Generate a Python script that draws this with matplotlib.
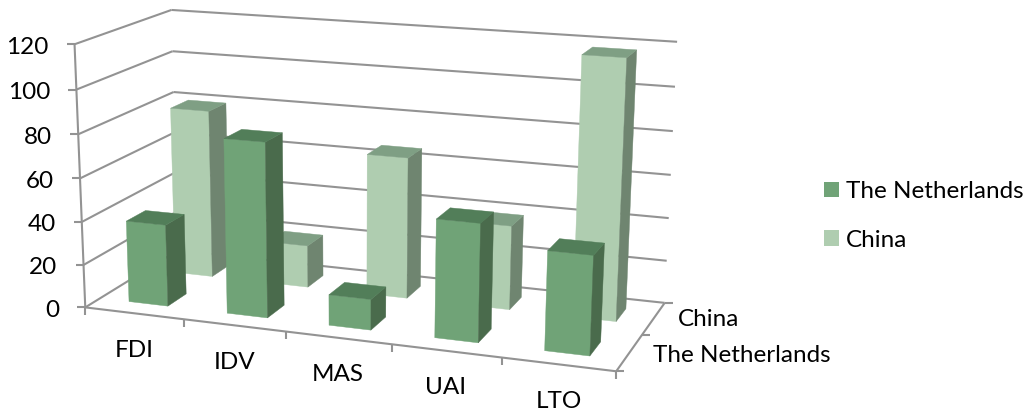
import numpy as np
import matplotlib
matplotlib.use("Agg")
import matplotlib.pyplot as plt
from matplotlib.patches import Patch

categories = ["FDI", "IDV", "MAS", "UAI", "LTO"]
series_names = ["The Netherlands", "China"]
netherlands = [38, 80, 14, 53, 44]
china = [80, 20, 66, 39, 118]
y_ticks = [0, 20, 40, 60, 80, 100, 120]

plt.rcParams["font.family"] = ["Lato", "DejaVu Sans"]
grid_col = "#939393"
txt_col = "#000000"
fs = 17.5

# colours: front, side, top
cols = {
    "The Netherlands": ("#70a377", "#4a6b4c", "#527e59"),
    "China": ("#afcdb0", "#6f8570", "#7f9f84"),
}

# camera calibration: box corners (cat, series, value) -> image pixels
world = np.array([
    [0, 0, 0], [5, 0, 0], [5, 2, 0], [0, 2, 0],
    [0, 0, 120], [0, 2, 120], [5, 2, 120],
], dtype=float)
image = np.array([
    [86, 307], [616, 372], [665, 302], [177, 251],
    [74, 44], [172, 10], [677, 42],
], dtype=float)

rows = []
rhs = []
for (X, Y, Z), (u, v) in zip(world, image):
    rows.append([X, Y, Z, 1, 0, 0, 0, 0, -u*X, -u*Y, -u*Z])
    rows.append([0, 0, 0, 0, X, Y, Z, 1, -v*X, -v*Y, -v*Z])
    rhs += [u, v]
cam = np.linalg.lstsq(np.array(rows), np.array(rhs), rcond=None)[0]
cam = np.append(cam, 1).reshape(3, 4)


def proj(x, y, z):
    p = cam @ np.array([x, y, z, 1.0])
    return p[0] / p[2], p[1] / p[2]


fig = plt.figure(figsize=(10.27, 4.12), dpi=100)
ax = fig.add_axes([0, 0, 1, 1])
ax.set_xlim(0, 1027)
ax.set_ylim(412, 0)
ax.axis("off")


def line(a, b, lw=1.5):
    ax.plot([a[0], b[0]], [a[1], b[1]], color=grid_col, lw=lw, solid_capstyle="butt", zorder=1)


# walls, floor edges
for v in y_ticks:
    p0 = proj(0, 0, v)
    p1 = proj(0, 2, v)
    p2 = proj(5, 2, v)
    line(p0, p1)
    line(p1, p2)
    line(p0, (p0[0] - 8, p0[1]))
    ax.text(p0[0] - 26, p0[1] + 3, str(v), ha="right", va="center", fontsize=fs, color=txt_col)
line(proj(0, 0, 0), proj(0, 0, 120))
line(proj(0, 0, 0), proj(5, 0, 0))
line(proj(5, 0, 0), proj(5, 2, 0))
for i in range(6):
    p = proj(i, 0, 0)
    line(p, (p[0], p[1] + 8))
for j in range(3):
    p = proj(5, j, 0)
    line(p, (p[0] + 8, p[1]))
for i, c in enumerate(categories):
    p = proj(i + 0.5, 0, 0)
    ax.text(p[0], p[1] + 37, c, ha="center", va="center", fontsize=fs, color=txt_col)
ax.text(678, 320, series_names[1], ha="left", va="center", fontsize=fs, color=txt_col)
ax.text(653, 355, series_names[0], ha="left", va="center", fontsize=fs, color=txt_col)


def bar(i, j, val, c):
    x0, x1 = i + 0.3, i + 0.7
    y0, y1 = j + 0.3, j + 0.7
    front = [proj(x0, y0, 0), proj(x1, y0, 0), proj(x1, y0, val), proj(x0, y0, val)]
    side = [proj(x1, y0, 0), proj(x1, y1, 0), proj(x1, y1, val), proj(x1, y0, val)]
    top = [proj(x0, y0, val), proj(x1, y0, val), proj(x1, y1, val), proj(x0, y1, val)]
    for face, col in zip((front, side, top), c):
        pts = np.array(face)
        ax.fill(pts[:, 0], pts[:, 1], color=col, lw=0.3, zorder=3 + (1 - j))


# back series first so the front row covers it
for i, val in enumerate(china):
    bar(i, 1, val, cols["China"])
for i, val in enumerate(netherlands):
    bar(i, 0, val, cols["The Netherlands"])

handles = [Patch(color=cols[n][0], lw=0) for n in series_names]
ax.legend(handles, series_names, loc="upper left", bbox_to_anchor=(824 / 1027, 1 - 181 / 412),
          frameon=False, fontsize=fs, handlelength=0.62, handleheight=0.62,
          handletextpad=0.27, labelspacing=1.14, borderpad=0, borderaxespad=0)

plt.savefig("out.png", dpi=100)
